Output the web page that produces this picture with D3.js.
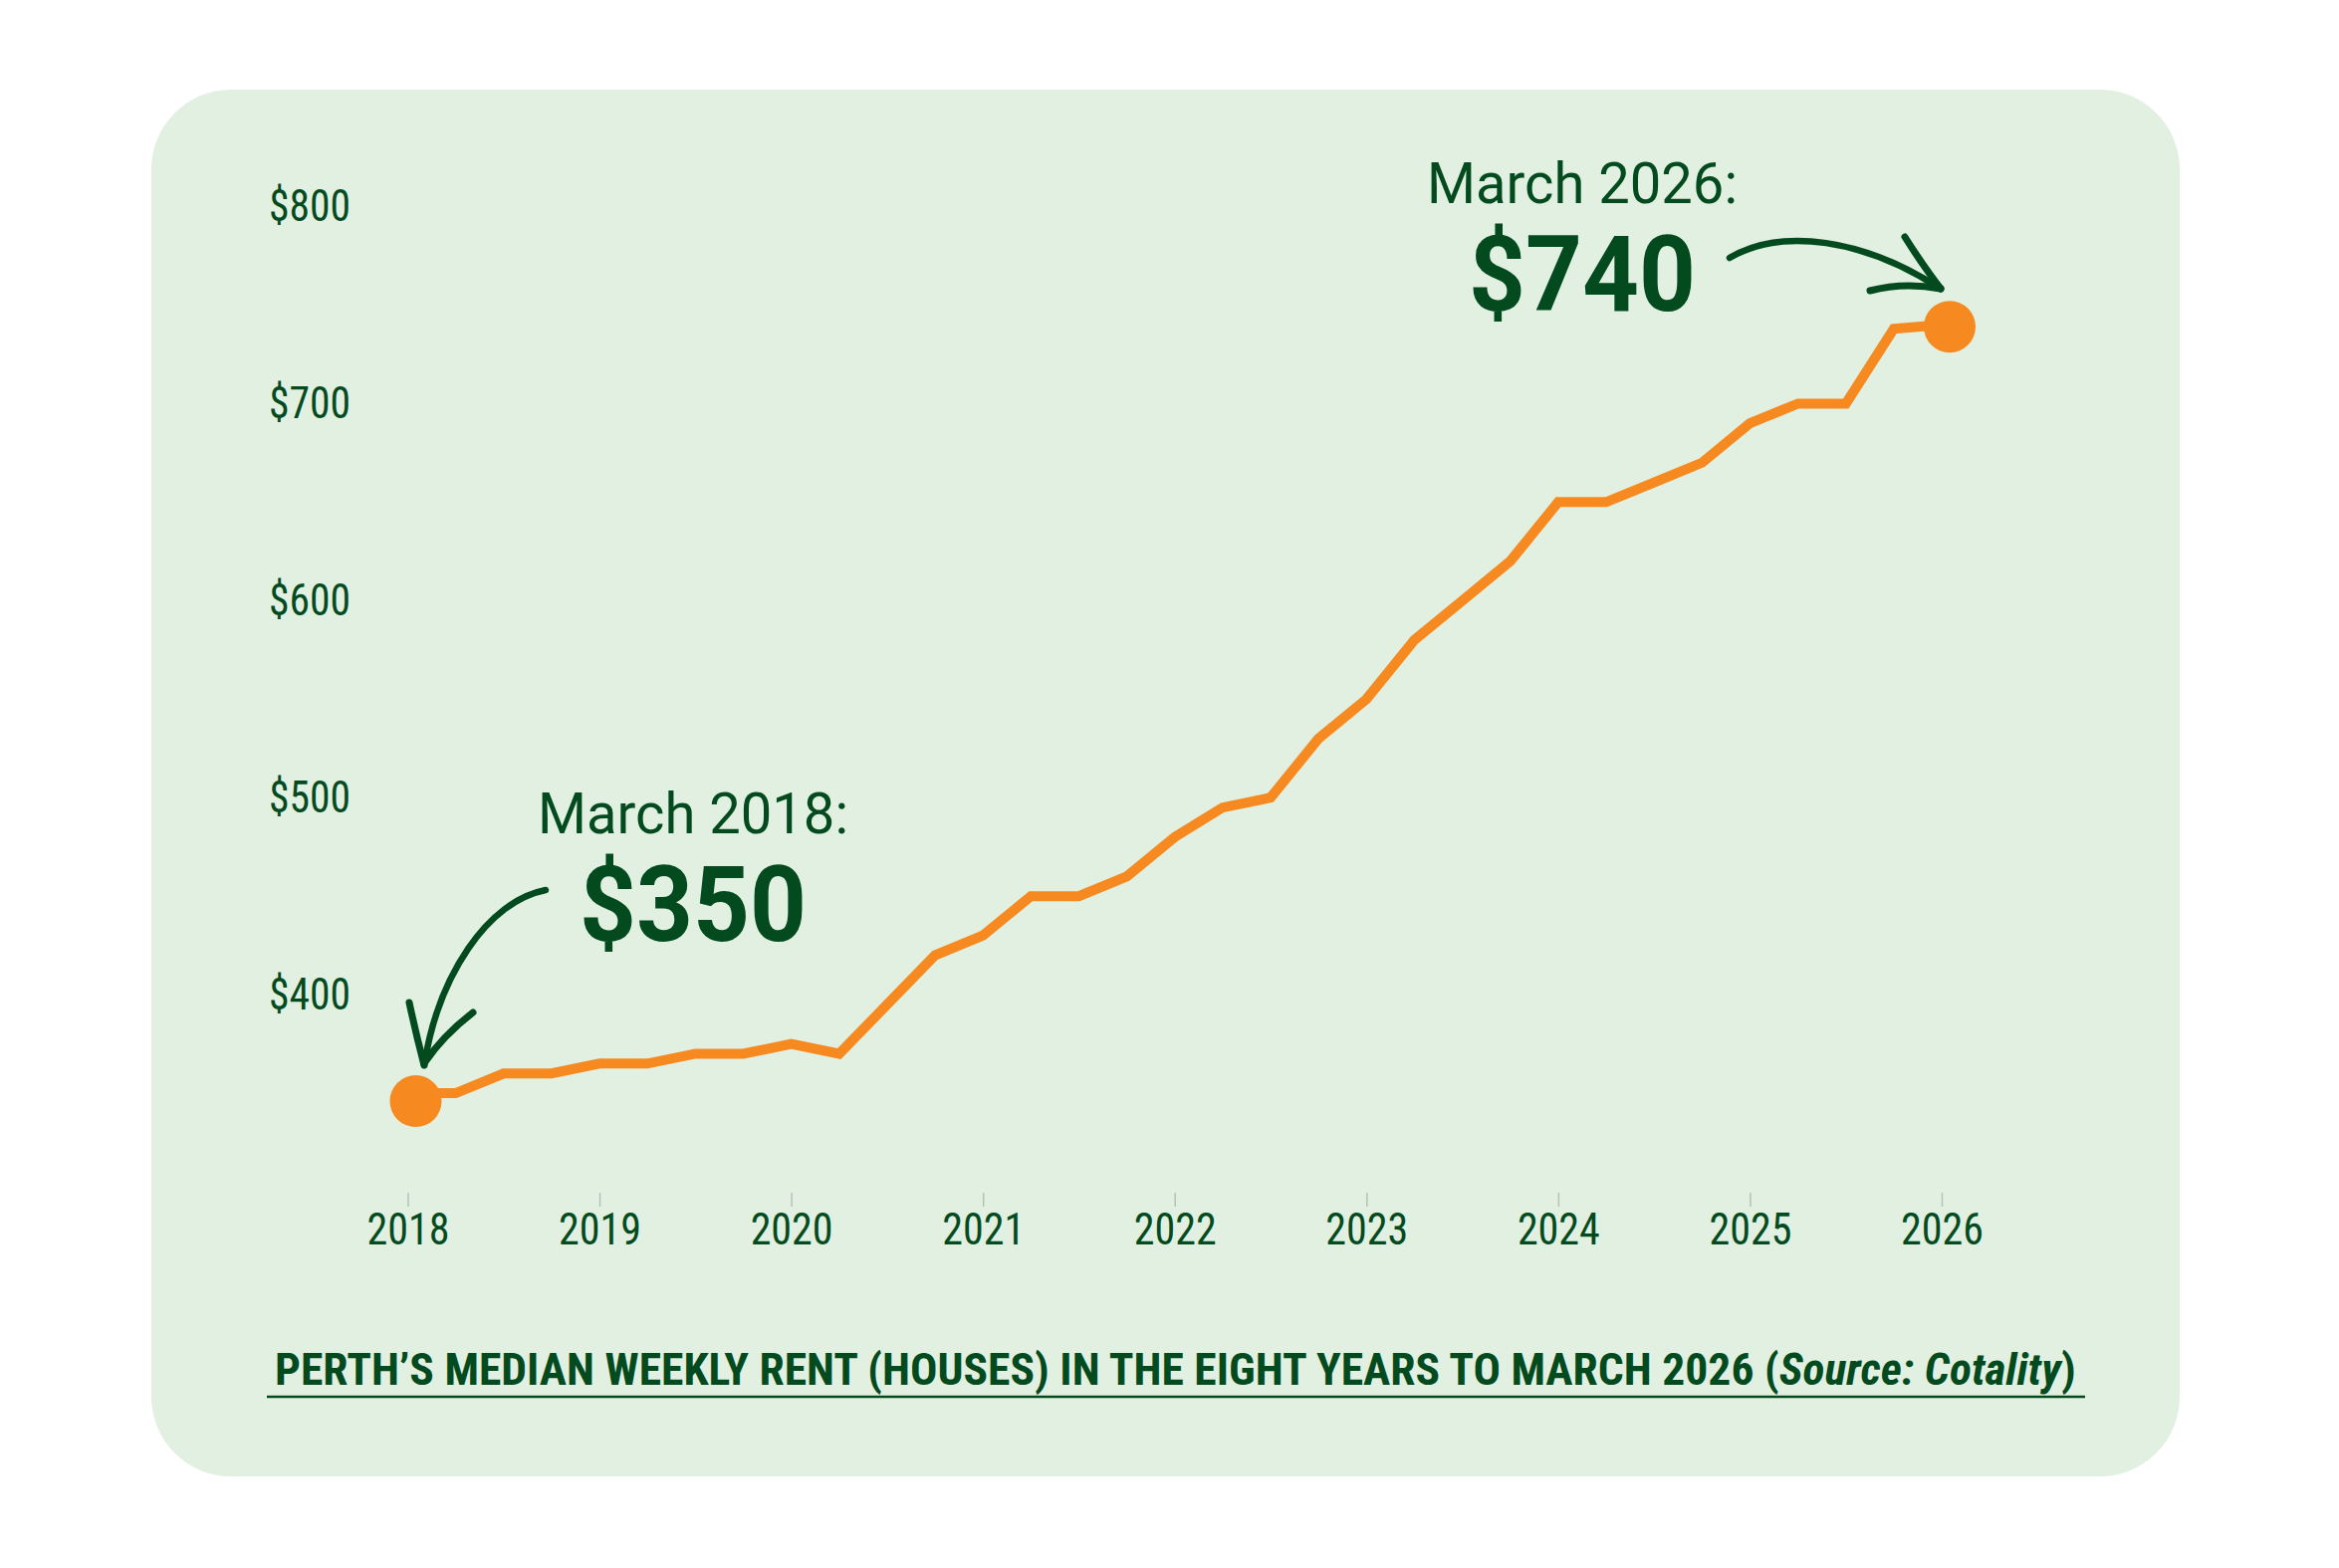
<!DOCTYPE html>
<html>
<head>
<meta charset="utf-8">
<script src="https://cdn.jsdelivr.net/npm/d3@7"></script>
<style>
  html, body { margin: 0; padding: 0; background: #ffffff; }
  svg { display: block; }
  text { font-family: "Roboto Condensed", Roboto, "Noto Sans", sans-serif; }
</style>
</head>
<body>
<script>
// ---- data ----
const quarters = [
  "Mar 2018","Jun 2018","Sep 2018","Dec 2018",
  "Mar 2019","Jun 2019","Sep 2019","Dec 2019",
  "Mar 2020","Jun 2020","Sep 2020","Dec 2020",
  "Mar 2021","Jun 2021","Sep 2021","Dec 2021",
  "Mar 2022","Jun 2022","Sep 2022","Dec 2022",
  "Mar 2023","Jun 2023","Sep 2023","Dec 2023",
  "Mar 2024","Jun 2024","Sep 2024","Dec 2024",
  "Mar 2025","Jun 2025","Sep 2025","Dec 2025",
  "Mar 2026"
];
const rent = [
  350, 350, 360, 360,
  365, 365, 370, 370,
  375, 370, 395, 420,
  430, 450, 450, 460,
  480, 495, 500, 530,
  550, 580, 600, 620,
  650, 650, 660, 670,
  690, 700, 700, 738,
  740
];
const yearTicks = [2018, 2019, 2020, 2021, 2022, 2023, 2024, 2025, 2026];
const rentTicks = [400, 500, 600, 700, 800];
const titleMain = "PERTH\u2019S MEDIAN WEEKLY RENT (HOUSES) IN THE EIGHT YEARS TO MARCH 2026 (";
const titleSource = "Source: Cotality";
const titleEnd = ")";

// ---- setup ----
const W = 2349, H = 1575;
const GREEN = "#034b1f", ORANGE = "#f68a20", PANEL = "#e2f0e1";
const svg = d3.select("body").append("svg").attr("width", W).attr("height", H);

svg.append("rect").attr("x", 152).attr("y", 90).attr("width", 2037).attr("height", 1393)
  .attr("rx", 80).attr("ry", 80).attr("fill", PANEL);

const monthOffset = { Mar: 0, Jun: 0.25, Sep: 0.5, Dec: 0.75 };
const data = quarters.map((q, i) => {
  const [m, y] = q.split(" ");
  return { t: +y + monthOffset[m], v: rent[i], label: q };
});

const x = d3.scaleLinear().domain([2018, 2026]).range([409.5, 1950]);
const y = d3.scaleLinear().domain([300, 800]).range([1197, 207.5]);

// x axis
const xAxis = svg.append("g").attr("transform", `translate(0,${y(300) + 1})`)
  .call(d3.axisBottom(x).tickValues(yearTicks).tickFormat(d3.format("d")).tickSize(14).tickPadding(6));
xAxis.select(".domain").remove();
xAxis.selectAll(".tick line").attr("stroke", "#b8c0b8").attr("stroke-width", 1.5);
xAxis.selectAll(".tick text").attr("fill", GREEN).attr("font-size", 45)
  .style("font-family", "'Roboto Condensed', Roboto, sans-serif")
  .attr("textLength", 83).attr("lengthAdjust", "spacingAndGlyphs");

// y axis
const yAxis = svg.append("g").attr("transform", "translate(352,0)")
  .call(d3.axisLeft(y).tickValues(rentTicks).tickFormat(d => "$" + d).tickSize(0).tickPadding(0));
yAxis.select(".domain").remove();
yAxis.selectAll(".tick text").attr("fill", GREEN).attr("font-size", 45)
  .style("font-family", "'Roboto Condensed', Roboto, sans-serif")
  .attr("textLength", 82).attr("lengthAdjust", "spacingAndGlyphs");

// line
const line = d3.line().x(d => x(d.t)).y(d => y(d.v));
svg.append("path").datum(data).attr("d", line)
  .attr("fill", "none").attr("stroke", ORANGE).attr("stroke-width", 10)
  .attr("stroke-linejoin", "miter").attr("stroke-linecap", "butt");

// end dots
const first = data[0], last = data[data.length - 1];
svg.selectAll("circle.end").data([first, last]).enter().append("circle")
  .attr("class", "end").attr("cx", d => x(d.t) + 8).attr("cy", (d, i) => y(d.v) + (i === 0 ? 8 : 2))
  .attr("r", 26).attr("fill", ORANGE);

// annotations
function annot(cx, baseTop, monthText, value) {
  svg.append("text").attr("x", cx).attr("y", baseTop).attr("text-anchor", "middle")
    .style("font-family", "Roboto, sans-serif").attr("font-size", 58).attr("fill", GREEN)
    .attr("textLength", 312).attr("lengthAdjust", "spacingAndGlyphs").text(monthText);
  svg.append("text").attr("x", cx).attr("y", baseTop + 108).attr("text-anchor", "middle")
    .style("font-family", "Roboto, sans-serif").attr("font-weight", 700).attr("font-size", 105)
    .attr("fill", GREEN).attr("textLength", 228).attr("lengthAdjust", "spacingAndGlyphs")
    .text("$" + value);
}
annot(696, 837, first.label.replace("Mar", "March") + ":", first.v);
annot(1589, 204, last.label.replace("Mar", "March") + ":", last.v);

// arrows
const arrows = svg.append("g").attr("fill", "none").attr("stroke", GREEN)
  .attr("stroke-linecap", "round").attr("stroke-linejoin", "round");
arrows.append("path").attr("d", "M1737,259 C1790,228 1872,240 1949,290").attr("stroke-width", 6.5);
arrows.append("path").attr("d", "M1913,238 Q1932,268 1949,290").attr("stroke-width", 7);
arrows.append("path").attr("d", "M1878,292 Q1912,283 1949,290").attr("stroke-width", 7);
arrows.append("path").attr("d", "M548,894 C490,905 440,980 426,1070").attr("stroke-width", 6.5);
arrows.append("path").attr("d", "M411,1007 Q418,1040 426,1070").attr("stroke-width", 7);
arrows.append("path").attr("d", "M475,1017 Q445,1040 426,1068").attr("stroke-width", 7);

// title
const tg = svg.append("g");
const tt = tg.append("text").attr("x", 0).attr("y", 0).attr("fill", GREEN)
  .style("font-family", "'Roboto Condensed', Roboto, sans-serif")
  .attr("font-size", 44).attr("font-weight", 700);
tt.append("tspan").text(titleMain);
tt.append("tspan").attr("font-style", "italic").text(titleSource);
tt.append("tspan").text(titleEnd);
const tw = tt.node().getComputedTextLength();
tg.attr("transform", `translate(276,1391) scale(${1809 / tw},1)`);
svg.append("line").attr("x1", 268).attr("x2", 2094).attr("y1", 1403).attr("y2", 1403)
  .attr("stroke", GREEN).attr("stroke-width", 2.5);
</script>
</body>
</html>
